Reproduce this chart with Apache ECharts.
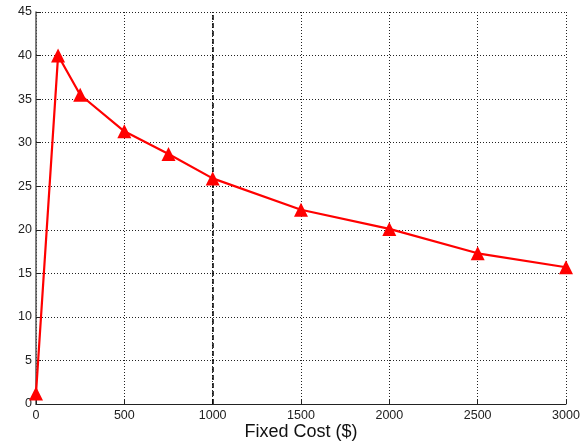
<!DOCTYPE html>
<html><head><meta charset="utf-8">
<script src="https://cdn.jsdelivr.net/npm/echarts@6/dist/echarts.min.js"></script>
<style>html,body{margin:0;padding:0;background:#fff}#c{width:585px;height:443px}</style>
</head><body><div id="c"></div>
<script>
const fixedCost = [0, 125, 250, 500, 750, 1000, 1500, 2000, 2500, 3000];
const values = [1.2, 40.0, 35.5, 31.3, 28.7, 25.9, 22.3, 20.1, 17.3, 15.7];
const markerX = 1000;
const xTicks = [0, 500, 1000, 1500, 2000, 2500, 3000];
const yTicks = [0, 5, 10, 15, 20, 25, 30, 35, 40, 45];

const chart = echarts.init(document.getElementById('c'), null, {renderer: 'canvas'});
const font = 'Liberation Sans, Arial, sans-serif';
chart.setOption({
  animation: false,
  backgroundColor: '#fff',
  grid: {left: 36, right: 19, top: 12, bottom: 39, containLabel: false, outerBoundsMode: 'none'},
  xAxis: {
    type: 'value', min: xTicks[0], max: xTicks[xTicks.length-1], interval: 500,
    name: 'Fixed Cost ($)', nameLocation: 'middle', nameGap: 19, nameMoveOverlap: false,
    nameTextStyle: {fontFamily: font, fontSize: 18, color: '#111'},
    axisLine: {show: true, lineStyle: {color: '#222', width: 1}},
    axisTick: {show: true, inside: true, length: 5, lineStyle: {color: '#222'}},
    axisLabel: {fontFamily: font, fontSize: 12.5, color: '#222', margin: 5,
      formatter: v => String(v)},
    splitLine: {show: true, lineStyle: {type: [1, 2], color: '#222', width: 1}}
  },
  yAxis: {
    type: 'value', min: yTicks[0], max: yTicks[yTicks.length-1], interval: 5,
    axisLine: {show: true, lineStyle: {color: '#555', width: 1.5}},
    axisTick: {show: true, inside: true, length: 5, lineStyle: {color: '#222'}},
    axisLabel: {fontFamily: font, fontSize: 12.5, color: '#222', margin: 4},
    splitLine: {show: true, lineStyle: {type: [1, 2], color: '#222', width: 1}}
  },
  series: [{
    type: 'line',
    data: fixedCost.map((x, i) => [x, values[i]]),
    symbol: 'triangle', symbolSize: 14,
    lineStyle: {color: '#ff0000', width: 2.2},
    itemStyle: {color: '#ff0000'},
    clip: false,
    markLine: {
      silent: true, symbol: 'none', label: {show: false},
      lineStyle: {color: '#000', type: [5, 3], width: 1.5},
      data: [{xAxis: markerX}]
    },
    z: 5
  }]
});
</script></body></html>
